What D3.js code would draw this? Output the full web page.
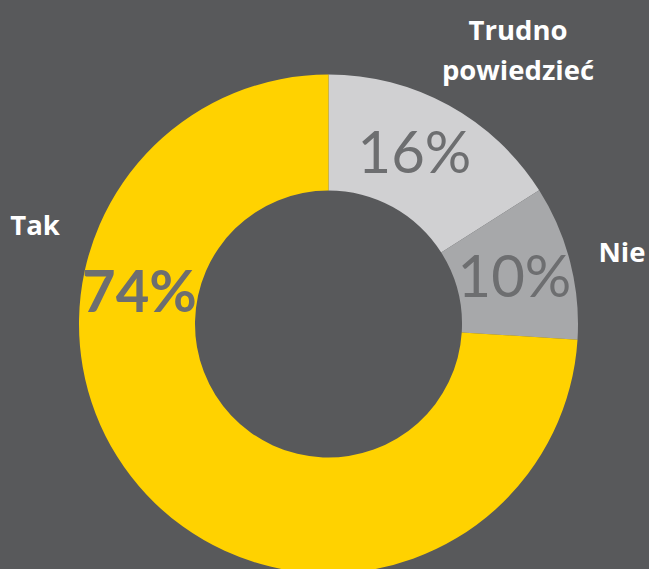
<!DOCTYPE html>
<html><head><meta charset="utf-8">
<script src="https://cdn.jsdelivr.net/npm/d3@7"></script>
<style>html,body{margin:0;padding:0;background:#58595b;overflow:hidden}</style>
</head><body>
<svg id="c" width="649" height="569"></svg>
<script>
const categories = ["Trudno powiedzieć", "Nie", "Tak"];
const values = [16, 10, 74];
const valueLabels = ["16%", "10%", "74%"];
const colors = ["#d0d0d2", "#a7a8aa", "#ffd200"];

const svg = d3.select("#c");
const W = 649, H = 569, cx = 328.5, cy = 324;
const outerR = 249.5, innerR = 133.5;
svg.append("rect").attr("width", W).attr("height", H).attr("fill", "#58595b");

const pie = d3.pie().sort(null).value(d => d)(values);
const arc = d3.arc().innerRadius(innerR).outerRadius(outerR);
const g = svg.append("g").attr("transform", `translate(${cx},${cy})`);
g.selectAll("path").data(pie).join("path")
  .attr("d", arc).attr("fill", (d, i) => colors[i]);

// percentage labels
const labelR = 192;
const angleAdjust = [-2.2, 0, 0]; // degrees
g.selectAll("text.pct").data(pie).join("text")
  .attr("class", "pct")
  .each(function (d, i) {
    let a = (d.startAngle + d.endAngle) / 2 + angleAdjust[i] * Math.PI / 180;
    if (i === 2) a = 280 * Math.PI / 180;
    d3.select(this)
      .attr("x", labelR * Math.sin(a))
      .attr("y", -labelR * Math.cos(a))
      .attr("dy", "0.36em");
  })
  .attr("text-anchor", "middle")
  .attr("font-family", "Lato, 'Open Sans', sans-serif")
  .attr("font-size", 58)
  .attr("font-weight", (d, i) => i === 2 ? 700 : 400)
  .attr("fill", "#6d6e70")
  .text((d, i) => valueLabels[i]);

// category labels
const lab = svg.append("g")
  .attr("font-family", "'Open Sans', sans-serif")
  .attr("font-weight", 700)
  .attr("font-size", 27.5)
  .attr("fill", "#ffffff")
  .attr("text-anchor", "middle");
const t0 = lab.append("text").attr("x", 518).attr("y", 40);
t0.append("tspan").attr("x", 518).text(categories[0].split(" ")[0]);
t0.append("tspan").attr("x", 518).attr("dy", 40).text(categories[0].split(" ")[1]);
lab.append("text").attr("x", 622).attr("y", 262).text(categories[1]);
lab.append("text").attr("x", 35).attr("y", 235).text(categories[2]);
</script>
</body></html>
